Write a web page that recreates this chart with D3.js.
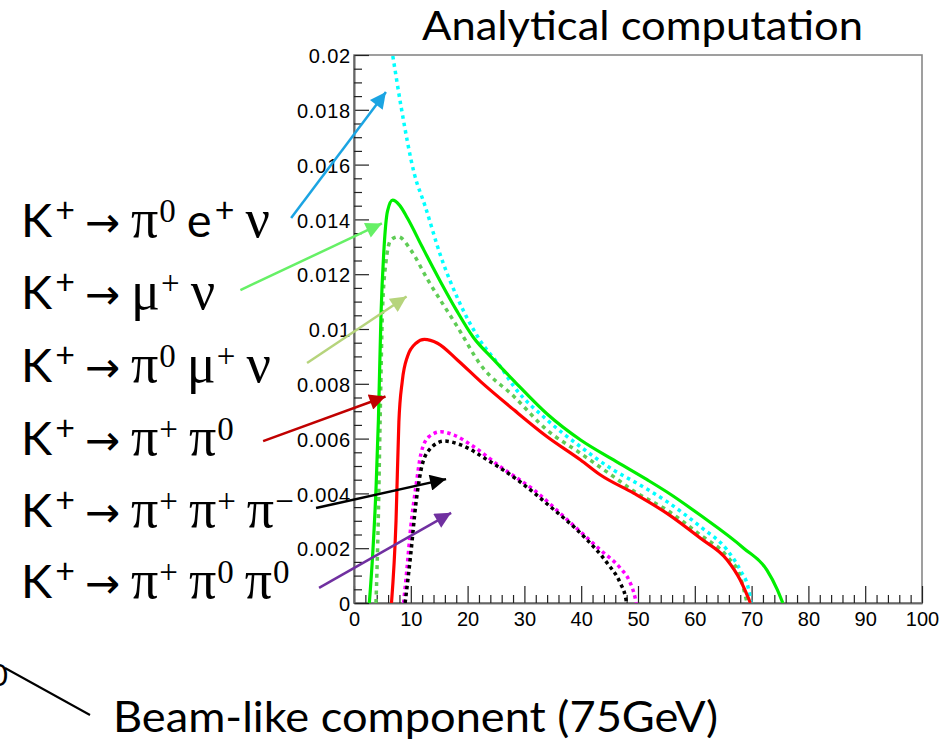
<!DOCTYPE html>
<html>
<head>
<meta charset="utf-8">
<script src="https://cdn.jsdelivr.net/npm/d3@7/dist/d3.min.js"></script>
<style>
  body { margin: 0; background: #fff; }
  svg { display: block; }
</style>
</head>
<body>
<svg id="chart" width="943" height="742"></svg>
<script>
// energy of the kaon decay product (GeV) vs normalised yield
const ke3 = [[6.4,0.0205],[6.8,0.0200],[8.3,0.0181],[10.6,0.01568],[12.5,0.0145],[15.3,0.01264],[18.5,0.0110],[22.3,0.00955],[25.8,0.00862],[28.2,0.00789],[34.0,0.00668],[39.9,0.0057],[45.7,0.00485],[49.3,0.00443],[55.1,0.0037],[61.0,0.00278],[65.7,0.00193],[68.0,0.0012],[69.5,0.00047],[69.9,0]];
const kmu3 = [[3.87,0],[4.27,0.003],[4.6,0.0067],[5.0,0.01057],[5.6,0.0124],[6.5,0.01325],[7.8,0.01337],[10.0,0.01288],[13.0,0.01179],[18.2,0.01008],[22.3,0.00869],[28.2,0.00753],[34.0,0.00631],[39.9,0.00546],[45.7,0.00461],[49.3,0.00408],[55.1,0.00339],[61.0,0.00248],[65.7,0.00169],[68.0,0.00096],[69.2,0]];
const k3pi0 = [[8.73,0],[9.3,0.0012],[10.0,0.00279],[10.9,0.00425],[11.8,0.00546],[13.2,0.00607],[15.3,0.00625],[17.6,0.00613],[21.1,0.0057],[25.8,0.00497],[31.7,0.00412],[37.6,0.00303],[43.4,0.00193],[46.9,0.00127],[48.4,0.00084],[49.3,0.00035],[49.7,0]];
const k3pi = [[9.0,0],[10.0,0.0018],[10.9,0.00363],[11.8,0.00485],[13.2,0.00558],[15.9,0.00591],[18.8,0.00577],[23.5,0.00522],[28.8,0.00449],[34.6,0.00351],[40.5,0.00242],[44.6,0.00145],[46.9,0.00072],[47.8,0.00022],[48.0,0]];
const kmu2 = [[2.7,0],[3.3,0.0018],[3.9,0.0043],[4.3,0.0067],[4.75,0.0105],[5.3,0.0130],[5.9,0.0143],[6.8,0.0147],[8.0,0.01452],[9.4,0.01405],[12.0,0.0130],[15.3,0.0117],[18.0,0.0107],[21.0,0.0097],[24.5,0.0089],[28.2,0.0081],[34.0,0.0069],[39.9,0.00595],[45.7,0.00522],[51.6,0.0045],[55.1,0.00405],[61.0,0.0032],[68.6,0.0020],[72.7,0.0012],[74.5,0.0005],[75.5,0]];
const kpi2 = [[6.6,0],[7.4,0.003],[7.9,0.0066],[8.5,0.0081],[9.4,0.00899],[10.9,0.00948],[12.4,0.00962],[14.7,0.00948],[18.2,0.00887],[22.3,0.00808],[28.2,0.00704],[34.0,0.00607],[39.9,0.00522],[43.4,0.00467],[49.3,0.00400],[55.1,0.00327],[61.0,0.00236],[65.7,0.00157],[68.0,0.00084],[69.8,0]];

// decay channel labels: base symbol + superscript
const decayLabels = [
  [{t:"K",s:"+"},{t:"→"},{t:"π",s:"0"},{t:"e",s:"+"},{t:"ν"}],
  [{t:"K",s:"+"},{t:"→"},{t:"μ",s:"+"},{t:"ν"}],
  [{t:"K",s:"+"},{t:"→"},{t:"π",s:"0"},{t:"μ",s:"+"},{t:"ν"}],
  [{t:"K",s:"+"},{t:"→"},{t:"π",s:"+"},{t:"π",s:"0"}],
  [{t:"K",s:"+"},{t:"→"},{t:"π",s:"+"},{t:"π",s:"+"},{t:"π",s:"−"}],
  [{t:"K",s:"+"},{t:"→"},{t:"π",s:"+"},{t:"π",s:"0"},{t:"π",s:"0"}]
];
// arrows from each label to its curve, in data coordinates
const arrowFrom = [[-11.07,0.01405],[-20.0,0.01142],[-8.26,0.00876],[-16.0,0.00591],[-6.68,0.00347],[-6.15,0.00055]];
const arrowTo = [[6.68,0.01894],[6.5,0.01401],[10.72,0.01139],[7.2,0.00766],[17.93,0.0046],[18.63,0.00347]];

const xMajor = d3.range(0, 101, 10);
const xMinor = d3.range(0, 101, 2).filter(v => v % 10 !== 0);
const yMajor = d3.range(11).map(i => i * 0.002);
const yMinor = d3.range(41).map(i => i * 0.0005).filter((v, i) => i % 4 !== 0);

const svg = d3.select("#chart");
const x = d3.scaleLinear().domain([0, 100]).range([354, 922]);
const y = d3.scaleLinear().domain([0, 0.02]).range([603, 55]);

const series = [
  {data: ke3,   color: "#00ffff", width: 3.5, dash: "3.5,4"},
  {data: kmu3,  color: "#5fcc55", width: 3.5, dash: "4,4.5"},
  {data: k3pi0, color: "#ff00ff", width: 3.5, dash: "3.5,3.5"},
  {data: k3pi,  color: "#000000", width: 3.5, dash: "3.5,3.5"},
  {data: kmu2,  color: "#00ee00", width: 3.2, dash: null},
  {data: kpi2,  color: "#ff0000", width: 3.2, dash: null}
];
const arrowColors = ["#1ba4e2", "#66f066", "#b6d47c", "#c00000", "#000000", "#7030a0"];
const labelBaselines = [237, 309, 382, 455, 527, 598];

// frame
svg.append("rect")
  .attr("x", x(0)).attr("y", y(0.02))
  .attr("width", x(100) - x(0)).attr("height", y(0) - y(0.02))
  .attr("fill", "none").attr("stroke", "#888").attr("stroke-width", 1.6);

// axes: major ticks with labels, then minor ticks
const fmt = d3.format(".3~f");
const xAxis = svg.append("g").attr("transform", `translate(0,${y(0)})`)
  .call(d3.axisBottom(x).tickValues(xMajor).tickSize(-17).tickSizeOuter(0).tickPadding(9).tickFormat(d3.format("d")));
svg.append("g").attr("transform", `translate(0,${y(0)})`)
  .call(d3.axisBottom(x).tickValues(xMinor).tickSize(-8).tickSizeOuter(0).tickFormat(""));
const yAxis = svg.append("g").attr("transform", `translate(${x(0)},0)`)
  .call(d3.axisLeft(y).tickValues(yMajor).tickSize(-15).tickSizeOuter(0).tickPadding(3).tickFormat(fmt));
svg.append("g").attr("transform", `translate(${x(0)},0)`)
  .call(d3.axisLeft(y).tickValues(yMinor).tickSize(-8).tickSizeOuter(0).tickFormat(""));

svg.selectAll(".domain").attr("stroke", "#666").attr("stroke-width", 1.6);
svg.selectAll(".tick line").attr("stroke", "#222").attr("stroke-width", 1.2);
svg.selectAll(".tick text").attr("fill", "#000")
  .style("font-family", "'Liberation Sans', Arial, sans-serif").style("font-size", "20px");
yAxis.selectAll(".tick text").attr("dy", "0.38em").style("letter-spacing", "0.8px");
xAxis.selectAll(".tick text").attr("dy", "0.71em");

// curves
svg.append("clipPath").attr("id", "plotClip")
  .append("rect").attr("x", x(0)).attr("y", y(0.02))
  .attr("width", x(100) - x(0)).attr("height", y(0) - y(0.02));

const line = d3.line().x(d => x(d[0])).y(d => y(d[1])).curve(d3.curveMonotoneX);
svg.append("g").attr("clip-path", "url(#plotClip)")
  .selectAll("path").data(series).enter().append("path")
  .attr("d", d => line(d.data))
  .attr("fill", "none")
  .attr("stroke", d => d.color)
  .attr("stroke-width", d => d.width)
  .attr("stroke-dasharray", d => d.dash)
  .attr("stroke-linejoin", "round");

// title
svg.append("text").attr("x", 422).attr("y", 40)
  .attr("textLength", 441).attr("lengthAdjust", "spacingAndGlyphs")
  .style("font-family", "Lato, sans-serif").style("font-size", "40px").attr("fill", "#000")
  .text("Analytical computation");

// decay labels
const sansFont = "Lato, sans-serif";
const serifFont = "'Liberation Serif', 'DejaVu Serif', serif";
decayLabels.forEach((row, r) => {
  const t = svg.append("text").attr("x", 21).attr("y", labelBaselines[r]).attr("fill", "#000");
  let lift = 0;
  row.forEach((tok, i) => {
    const greek = /[πμν]/.test(tok.t);
    const arrow = tok.t === "→";
    t.append("tspan").text(tok.t)
      .attr("dx", i === 0 ? 0 : (arrow ? 10 : 11))
      .attr("dy", lift)
      .style("font-family", arrow ? "'DejaVu Sans', sans-serif" : (greek ? serifFont : sansFont))
      .style("font-size", arrow ? "42px" : (greek ? "54px" : "47px"));
    lift = 0;
    if (tok.s) {
      t.append("tspan").text(tok.s)
        .attr("dx", greek ? 1 : 3)
        .attr("dy", -15)
        .style("font-family", greek ? serifFont : sansFont)
        .style("font-size", greek ? "33px" : "34px");
      lift = 15;
    }
  });
});

// arrows
const defs = svg.append("defs");
arrowColors.forEach((c, i) => {
  defs.append("marker").attr("id", "head" + i)
    .attr("viewBox", "0 0 10 10").attr("refX", 10).attr("refY", 5)
    .attr("markerWidth", 20).attr("markerHeight", 16)
    .attr("markerUnits", "userSpaceOnUse").attr("orient", "auto")
    .append("path").attr("d", "M0,0L10,5L0,10z").attr("fill", c);
});
arrowFrom.forEach((a, i) => {
  const x1 = x(a[0]), y1 = y(a[1]), x2 = x(arrowTo[i][0]), y2 = y(arrowTo[i][1]);
  const len = Math.hypot(x2 - x1, y2 - y1);
  svg.append("line")
    .attr("x1", x1).attr("y1", y1)
    .attr("x2", x2 - (x2 - x1) / len * 10).attr("y2", y2 - (y2 - y1) / len * 10)
    .attr("stroke", arrowColors[i]).attr("stroke-width", 2.5)
    .attr("marker-end", `url(#head${i})`);
});

// beam-like component note at the bottom
svg.append("text").attr("x", 8).attr("y", 686).attr("text-anchor", "end")
  .style("font-family", sansFont).style("font-size", "30px").text("0");
svg.append("line").attr("x1", 5).attr("y1", 668).attr("x2", 90).attr("y2", 715)
  .attr("stroke", "#000").attr("stroke-width", 2);
svg.append("text").attr("x", 113).attr("y", 732)
  .attr("textLength", 605).attr("lengthAdjust", "spacingAndGlyphs")
  .style("font-family", sansFont).style("font-size", "43px").attr("fill", "#000")
  .text("Beam-like component (75GeV)");
</script>
</body>
</html>
